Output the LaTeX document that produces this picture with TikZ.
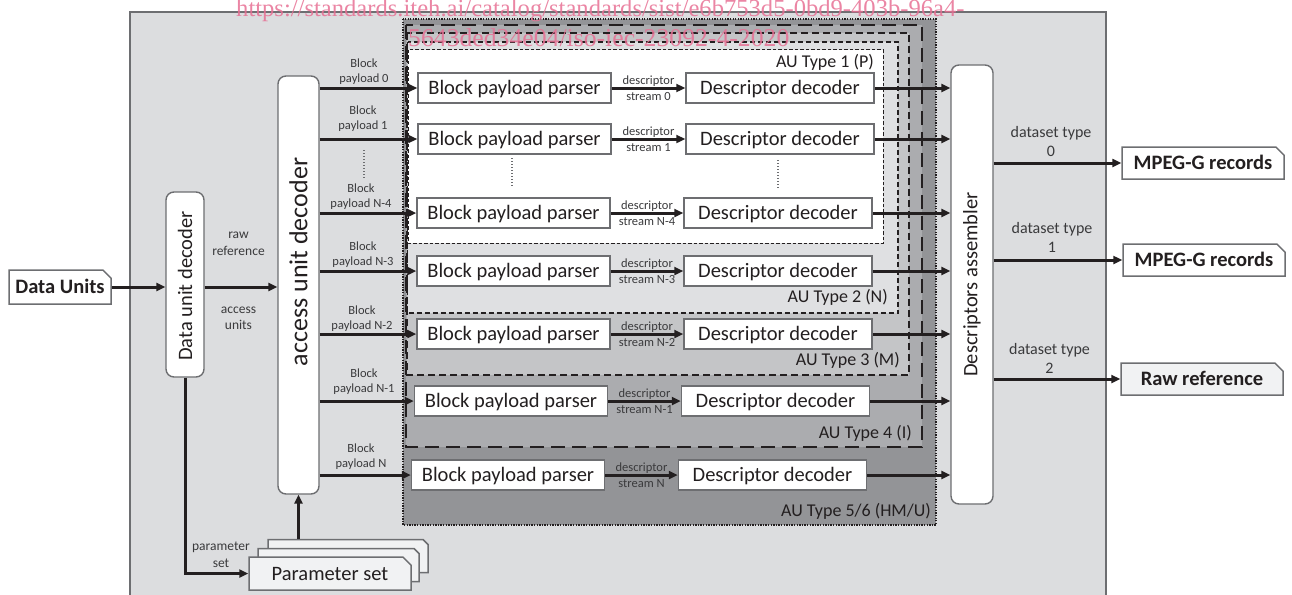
\documentclass[tikz,border=0pt]{standalone}
\usepackage{fontspec}
\setmainfont{Carlito}
\newfontfamily\wmfont{Liberation Serif}
\usetikzlibrary{arrows.meta,shapes.misc,calc}
\definecolor{bgmain}{HTML}{DCDDDF}
\definecolor{tfivesix}{HTML}{939497}
\definecolor{tfour}{HTML}{ABACAF}
\definecolor{tthree}{HTML}{C4C5C7}
\definecolor{ttwo}{HTML}{DFE0E2}
\definecolor{boxgray}{HTML}{6D6E71}
\definecolor{linecol}{HTML}{231F20}
\definecolor{labcol}{HTML}{3A3A3C}
\definecolor{psfill}{HTML}{F1F2F3}
\definecolor{wmpink}{RGB}{231,112,148}
\tikzset{
 arr/.style={draw=linecol, line width=3pt, -{Triangle[length=9pt,width=8pt]}},
 stdbox/.style={draw=boxgray, line width=1.5pt, fill=white, minimum height=30pt, inner sep=0pt, text height=13pt, text depth=0pt, text=linecol, font=\fontsize{20.5pt}{24pt}\selectfont},
 bppbox/.style={stdbox, minimum width=193pt},
 ddbox/.style={stdbox, minimum width=188pt},
 rbox/.style={draw=boxgray, line width=1.4pt, fill=white, rounded corners=8pt, inner sep=0pt},
 vtext/.style={rotate=90, text=linecol, inner sep=0pt},
 smalllab/.style={align=center, font=\fontsize{12.5pt}{15pt}\selectfont, text=labcol, inner sep=0pt},
 desclab/.style={align=center, font=\fontsize{12.5pt}{16pt}\selectfont, text=labcol, inner sep=0pt},
 midlab/.style={align=center, font=\fontsize{13.5pt}{16.5pt}\selectfont, text=labcol, inner sep=0pt},
 dslab/.style={align=center, font=\fontsize{16pt}{19pt}\selectfont, text=labcol, inner sep=0pt},
 aulab/.style={anchor=east, font=\fontsize{18pt}{21pt}\selectfont, text=linecol, inner sep=0pt},
 docbox/.style={chamfered rectangle, chamfered rectangle corners=north east, chamfered rectangle xsep=5pt, draw=boxgray, line width=1.5pt, inner sep=0pt, text height=13pt, text depth=0pt, text=linecol},
 outbox/.style={docbox, fill=white, minimum width=162pt, minimum height=32pt, font=\bfseries\fontsize{20.5pt}{24pt}\selectfont},
 psbox/.style={docbox, fill=psfill, minimum width=161pt, minimum height=33pt, font=\fontsize{20.5pt}{24pt}\selectfont},
 dotsep/.style={draw=boxgray, line width=2pt, dash pattern=on 1.4pt off 1.6pt},
 auone/.style={draw=linecol, line width=1pt, dash pattern=on 3.5pt off 2pt},
 autwo/.style={draw=linecol, line width=1.3pt, dash pattern=on 5pt off 3pt},
 authree/.style={draw=linecol, line width=1.8pt, dash pattern=on 7pt off 4pt},
 aufour/.style={draw=linecol, line width=2.6pt, dash pattern=on 14pt off 7pt},
 aufivesix/.style={draw=linecol, line width=2.2pt, dash pattern=on 1.3pt off 1.3pt},
 wm/.style={text=wmpink, opacity=0.85, inner sep=0pt}
}
\begin{document}
\begin{tikzpicture}[x=1pt,y=-1pt]
\useasboundingbox (0,0) rectangle (1292,594);
\clip (0,0) rectangle (1292,594);
% main background
\fill[bgmain] (130,12) rectangle (1106,600);
\draw[boxgray, line width=1.2pt] (130,600) -- (130,12) -- (1106,12) -- (1106,600);
% AU type regions
\fill[tfivesix] (403,19) rectangle (936,525);
\fill[tfour] (406,25) rectangle (922,447);
\fill[tthree] (407,33) rectangle (909,375);
\fill[ttwo] (407.5,42) rectangle (898,313);
\fill[white] (408,50) rectangle (883,243);
\draw[aufivesix] (403,19) rectangle (936,525);
\draw[aufour] (406,25) rectangle (922,447);
\draw[authree] (407,33) rectangle (909,375);
\draw[autwo] (407.5,42) rectangle (898,313);
\draw[auone] (408,50) rectangle (883,243);
\node[aulab] (au1) at (874,62) {AU Type 1 (P)};
\node[aulab] (au2) at (888,297) {AU Type 2 (N)};
\node[aulab] (au3) at (900,360) {AU Type 3 (M)};
\node[aulab] (au4) at (912,433) {AU Type 4 (I)};
\node[aulab] (au56) at (931,511) {AU Type 5/6 (HM/U)};
% main blocks
\node[rbox, minimum width=38pt, minimum height=185pt] (dud) at (185,284.5) {};
\node[vtext, font=\fontsize{20.5pt}{24pt}\selectfont] (dudt) at (185,286) {Data unit decoder};
\node[rbox, minimum width=41pt, minimum height=418pt] (aud) at (298.5,285) {};
\node[vtext, font=\fontsize{26pt}{30pt}\selectfont] (audt) at (298.5,262) {access unit decoder};
\node[rbox, minimum width=42pt, minimum height=439pt] (da) at (972,284.5) {};
\node[vtext, font=\fontsize{20.5pt}{24pt}\selectfont] (dat) at (972,284.5) {Descriptors assembler};
% input
\node[outbox, minimum width=102pt, minimum height=34pt] (du) at (60,287) {Data Units};
\draw[arr] (du.east) -- (du.east -| dud.west);
\draw[arr] (dud.east |- du.east) -- (aud.west |- du.east);
\node[midlab] (rawl) at (238.5,244) {raw\\reference};
\node[midlab] (accl) at (238.5,318.5) {access\\units};
% parameter sets
\node[psbox, minimum width=160pt] (ps3) at (348,556) {};
\node[psbox] (ps2) at (338.5,565) {};
\node[psbox, minimum width=162pt] (ps1) at (330,573.5) {Parameter set};
\draw[arr] (dud.south) |- (ps1.west);
\node[midlab] (psl) at (221,555) {parameter\\set};
\draw[arr] (ps3.north -| aud.south) -- (aud.south);
% rows
\foreach \nm/\y/\bx/\dx/\lx/\ly/\k in {
  ra/88/514.5/780/364/71.5/0,
  rb/139/514.5/780/363/119/1,
  rc/213/513.5/778/361/196.5/N-4,
  rd/271/513.5/778/363/254.5/N-3,
  re/334/513.5/778/362/319/N-2,
  rf/401/511/775.5/364/381.5/N-1,
  rg/475/508/772.5/361/456.5/N}{
  \node[bppbox] (bpp\nm) at (\bx,\y) {Block payload parser};
  \node[ddbox] (dd\nm) at (\dx,\y) {Descriptor decoder};
  \node[smalllab] (bl\nm) at (\lx,\ly) {Block\\payload \k};
  \draw[arr] (aud.east |- bpp\nm.west) -- (bpp\nm.west);
  \draw[arr] (bpp\nm.east) -- (dd\nm.west);
  \node[desclab] (ds\nm) at ($(bpp\nm.east)!0.5!(dd\nm.west)$) {descriptor\\stream \k};
  \draw[arr] (dd\nm.east) -- (da.west |- dd\nm.east);
}
% ellipsis dots
\draw[dotsep] (364,150) -- (364,178);
\draw[dotsep] (512,158) -- (512,187);
\draw[dotsep] (778,160) -- (778,188);
% outputs
\node[outbox] (mp0) at (1203,163) {MPEG-G records};
\node[outbox] (mp1) at (1204,260) {MPEG-G records};
\node[outbox, fill=psfill] (rr) at (1202,379) {Raw reference};
\draw[arr] (da.east |- mp0.west) -- (mp0.west);
\draw[arr] (da.east |- mp1.west) -- (mp1.west);
\draw[arr] (da.east |- rr.west) -- (rr.west);
\node[dslab] (dt0) at (1051,141) {dataset type\\0};
\node[dslab] (dt1) at (1052,237.5) {dataset type\\1};
\node[dslab] (dt2) at (1049.5,358.5) {dataset type\\2};
% watermark
\node[wm, anchor=base west, font=\wmfont\fontsize{24.6pt}{28pt}\selectfont] (wma) at (236,17) {https://standards.iteh.ai/catalog/standards/sist/e6b753d5-0bd9-403b-96a4-};
\node[wm, anchor=base west, font=\wmfont\fontsize{25.7pt}{28pt}\selectfont] (wmb) at (408,47) {5643ded34e04/iso-iec-23092-4-2020};
\end{tikzpicture}
\end{document}
